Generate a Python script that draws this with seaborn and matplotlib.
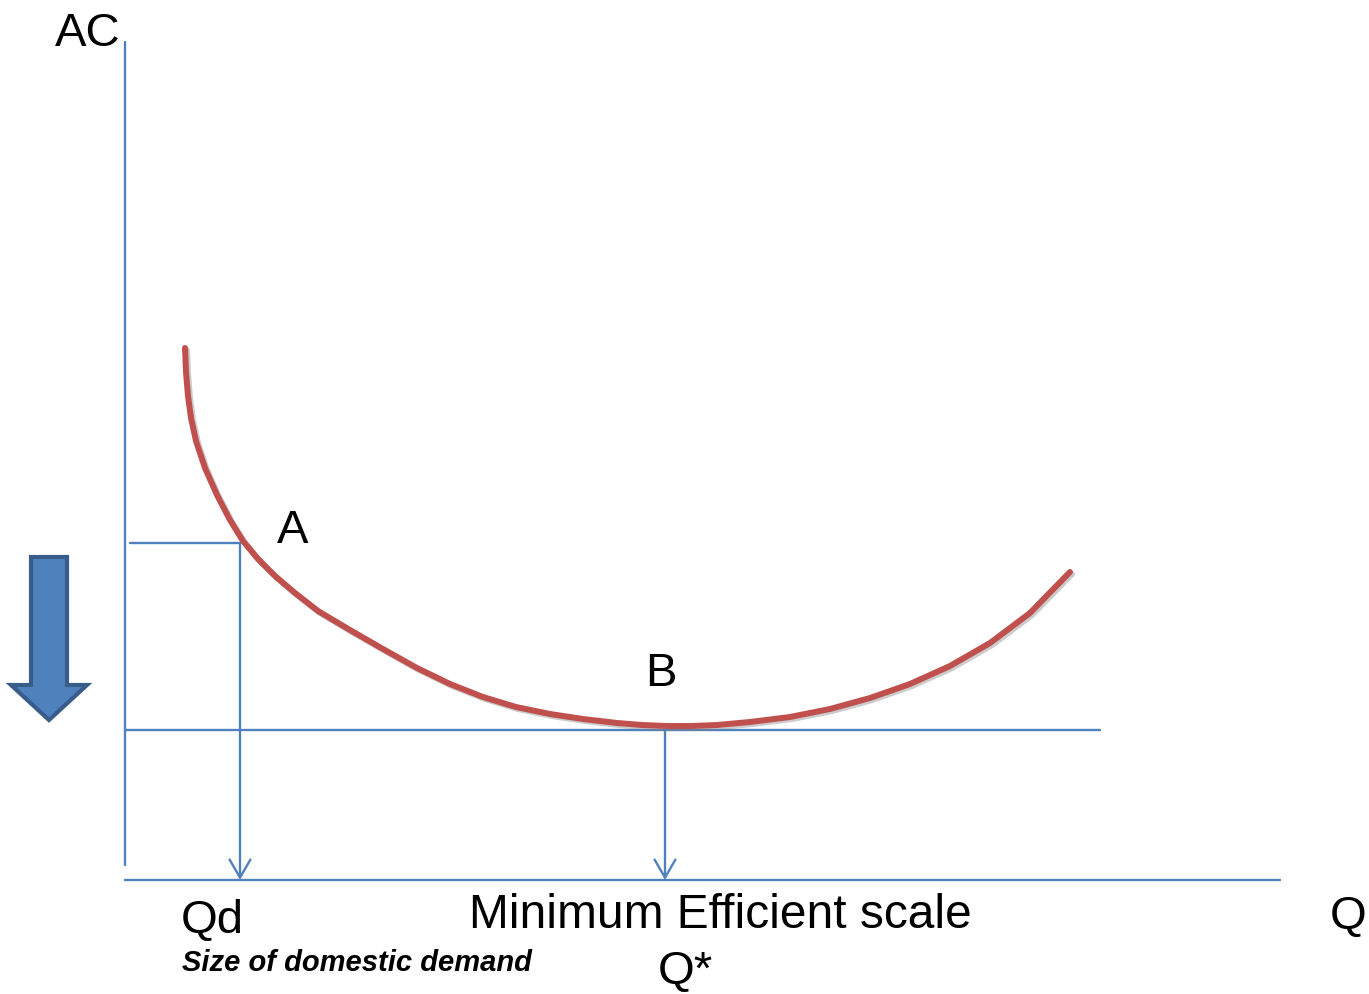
import matplotlib
matplotlib.use("Agg")
import matplotlib.pyplot as plt
import matplotlib.patheffects as pe
from matplotlib.patches import FancyArrowPatch
import pandas as pd
import seaborn as sns

# Diagram drawn in pixel space of the original slide (y grows downward)
# Average cost curve points
curve_q = [185, 186, 188, 191, 196, 205, 217, 230, 243, 258, 275, 295, 318, 350,
           383, 417, 450, 483, 516, 550, 583, 617, 642, 667, 692, 717, 750,
           790, 830, 870, 910, 950, 990, 1030, 1070]
curve_ac = [348, 372, 396, 418, 441, 468, 495, 520, 541, 559, 576, 593, 611, 630,
            649, 668, 684, 697, 707, 714, 719, 723, 725, 726, 726, 725, 722,
            717, 709, 698, 684, 666, 643, 613, 572]

# Axes and guide lines
axis_origin = (125, 880)
axis_top = 42
axis_right = 1280
min_ac_level = 730
min_ac_right = 1100
qd_x = 240
qd_ac = 543
qd_left = 130
q_star_x = 665

# Big "cost falls" arrow
big_arrow_x = 49
big_arrow_top = 557
big_arrow_tip = 720

blue = "#4F81BD"
red = "#C0504D"

sns.set_style("white")
plt.rcParams["font.family"] = ["Liberation Sans", "DejaVu Sans"]
plt.rcParams["text.color"] = "black"

fig = plt.figure(figsize=(13.69, 9.94), dpi=100)
ax = fig.add_axes([0, 0, 1, 1])
ax.set_xlim(0, 1369)
ax.set_ylim(994, 0)
ax.axis("off")

# axes
ax.plot([axis_origin[0], axis_origin[0]], [axis_top, axis_origin[1] - 15], color=blue, lw=1.7)
ax.plot([axis_origin[0], axis_right], [axis_origin[1], axis_origin[1]], color=blue, lw=1.7)

# minimum AC line
ax.plot([axis_origin[0], min_ac_right], [min_ac_level, min_ac_level], color=blue, lw=1.7)

# Qd guide
ax.plot([qd_left, qd_x], [qd_ac, qd_ac], color=blue, lw=1.7)

# AC curve
df = pd.DataFrame({"Q": curve_q, "AC": curve_ac})
sns.lineplot(data=df, x="Q", y="AC", sort=False, color=red, lw=4.3, ax=ax,
             solid_joinstyle="round",
             path_effects=[pe.SimpleLineShadow(offset=(1.5, -1.5), shadow_color="gray", alpha=0.4),
                           pe.Normal()])
ax.set_xlim(0, 1369)
ax.set_ylim(994, 0)
ax.axis("off")

# down arrows to the quantity axis
for x0, y0 in [(qd_x, qd_ac), (q_star_x, min_ac_level)]:
    arr = FancyArrowPatch((x0, y0), (x0, axis_origin[1]),
                          arrowstyle="->,head_length=1.3,head_width=0.75",
                          mutation_scale=10, color=blue, lw=1.7,
                          shrinkA=0, shrinkB=0)
    ax.add_patch(arr)

# big block arrow
ax.arrow(big_arrow_x, big_arrow_top, 0, big_arrow_tip - big_arrow_top,
         width=36, head_width=76, head_length=35, length_includes_head=True,
         fc=blue, ec="#385D8A", lw=3)

# labels
big = 34
ax.text(55, 46, "AC", fontsize=big, ha="left", va="baseline")
ax.text(1330, 929, "Q", fontsize=big, ha="left", va="baseline")
ax.text(277, 543, "A", fontsize=big, ha="left", va="baseline")
ax.text(645, 686, "B", fontsize=big, ha="left", va="baseline")
ax.text(181, 933, "Qd", fontsize=big, ha="left", va="baseline")
ax.text(469, 928, "Minimum Efficient scale", fontsize=34.5, ha="left", va="baseline")
ax.text(658, 984, "Q*", fontsize=big, ha="left", va="baseline")
ax.text(182, 971, "Size of domestic demand", fontsize=21, fontweight="bold",
        fontstyle="italic", ha="left", va="baseline")

fig.savefig("out.png", dpi=100)
